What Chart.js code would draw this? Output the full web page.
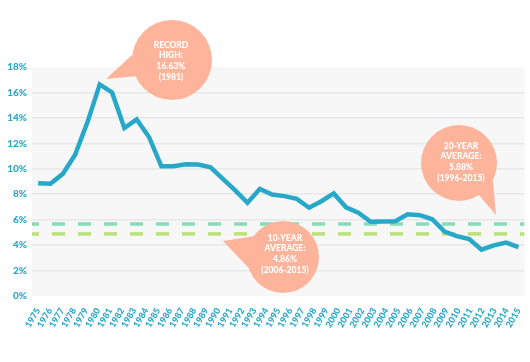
<!DOCTYPE html>
<html>
<head>
<meta charset="utf-8">
<script src="https://cdn.jsdelivr.net/npm/chart.js@4"></script>
<style>
  html, body { margin: 0; padding: 0; background: #fff; }
  #wrap { width: 530px; height: 362px; }
</style>
</head>
<body>
<div id="wrap"><canvas id="rateChart" width="530" height="362"></canvas></div>
<script>
// Tick labels along the bottom axis
const tickYears = ['1975', '1976', '1977', '1978', '1979', '1980', '1981', '1982', '1983', '1984',
    '1985', '1986', '1987', '1988', '1989', '1990', '1991', '1992', '1993', '1994', '1995',
    '1996', '1997', '1998', '1999', '2000', '2001', '2002', '2003', '2004', '2005', '2006',
    '2007', '2008', '2009', '2010', '2011', '2012', '2013', '2014', '2015'];

// Years of the plotted series (one fewer than the tick labels)
const seriesYears = ['1976', '1977', '1978', '1979', '1980', '1981', '1982', '1983', '1984',
    '1985', '1986', '1987', '1988', '1989', '1990', '1991', '1992', '1993', '1994', '1995',
    '1996', '1997', '1998', '1999', '2000', '2001', '2002', '2003', '2004', '2005', '2006',
    '2007', '2008', '2009', '2010', '2011', '2012', '2013', '2014', '2015'];

// Average 30-year mortgage rate (%)
const rates = [8.86, 8.82, 9.6, 11.1, 13.65, 16.63, 16.0, 13.2, 13.88, 12.5,
    10.2, 10.2, 10.36, 10.33, 10.12, 9.2, 8.3, 7.33, 8.42, 7.98,
    7.85, 7.63, 6.94, 7.45, 8.06, 6.97, 6.55, 5.84, 5.85, 5.88,
    6.42, 6.35, 6.03, 5.06, 4.71, 4.47, 3.64, 3.98, 4.2, 3.85];

// Dashed average lines, as drawn
const avg20Level = 5.66;
const avg10Level = 4.88;

// Speech bubble notes
const callouts = [
    { lines: ['RECORD', 'HIGH:', '16.63%', '(1981)'], cx: 172, cy: 60, r: 40, tip: [106, 79], base: [156, 188], tx: 171, ty: 45 },
    { lines: ['20-YEAR', 'AVERAGE:', '5.88%', '(1996-2015)'], cx: 459, cy: 163, r: 38, tip: [496, 215], base: [27, 58], tx: 461, ty: 146 },
    { lines: ['10-YEAR', 'AVERAGE:', '4.86%', '(2006-2015)'], cx: 283, cy: 257, r: 36, tip: [223, 241], base: [162, 215], tx: 285, ty: 238 }
];

const teal = '#2aa7c9';
const bubble = '#fdb49b';

// Grey plot background
const backdrop = {
    id: 'backdrop',
    beforeDraw(chart) {
        const { ctx, chartArea: a } = chart;
        ctx.save();
        ctx.fillStyle = '#f7f7f7';
        ctx.fillRect(a.left, a.top, a.right - a.left, a.bottom - a.top);
        ctx.restore();
    }
};

// Salmon callout bubbles drawn over everything
const bubbles = {
    id: 'bubbles',
    afterDraw(chart) {
        const ctx = chart.ctx;
        ctx.save();
        callouts.forEach(c => {
            const a1 = c.base[0] * Math.PI / 180;
            const a2 = c.base[1] * Math.PI / 180;
            ctx.fillStyle = bubble;
            ctx.beginPath();
            ctx.moveTo(c.tip[0], c.tip[1]);
            ctx.lineTo(c.cx + c.r * Math.cos(a1), c.cy + c.r * Math.sin(a1));
            ctx.lineTo(c.cx + c.r * Math.cos(a2), c.cy + c.r * Math.sin(a2));
            ctx.closePath();
            ctx.fill();
            ctx.beginPath();
            ctx.arc(c.cx, c.cy, c.r, 0, Math.PI * 2);
            ctx.fill();

            ctx.fillStyle = '#ffffff';
            ctx.font = '900 8.5px Lato';
            ctx.textAlign = 'center';
            ctx.textBaseline = 'middle';
            c.lines.forEach((line, i) => {
                ctx.fillText(line, c.tx, c.ty + i * 10.6);
            });
        });
        ctx.restore();
    }
};

const ctx = document.getElementById('rateChart').getContext('2d');

new Chart(ctx, {
    type: 'line',
    data: {
        datasets: [{
            label: 'Rate',
            data: rates,
            xAxisID: 'xSeries',
            borderColor: '#27a8c8',
            borderWidth: 4.5,
            pointRadius: 0,
            tension: 0,
            fill: false,
            order: 0
        }, {
            label: '20-year average',
            data: [{ x: 0, y: avg20Level }, { x: 1, y: avg20Level }],
            xAxisID: 'xFull',
            borderColor: '#88dcb6',
            borderWidth: 3.5,
            borderDash: [13, 13],
            borderDashOffset: 6,
            borderCapStyle: 'butt',
            pointRadius: 0,
            fill: false,
            order: 1
        }, {
            label: '10-year average',
            data: [{ x: 0, y: avg10Level }, { x: 1, y: avg10Level }],
            xAxisID: 'xFull',
            borderColor: '#bce17a',
            borderWidth: 3.5,
            borderDash: [13, 13],
            borderDashOffset: 6,
            borderCapStyle: 'butt',
            pointRadius: 0,
            fill: false,
            order: 2
        }]
    },
    options: {
        responsive: false,
        animation: false,
        devicePixelRatio: 1,
        layout: {
            padding: { top: 67, right: 3, left: 0, bottom: 0 }
        },
        plugins: {
            legend: { display: false },
            tooltip: { enabled: false }
        },
        scales: {
            x: {
                type: 'category',
                labels: tickYears,
                offset: true,
                grid: { display: false },
                border: { display: false },
                ticks: {
                    color: teal,
                    font: { family: 'Lato', weight: '900', size: 9 },
                    minRotation: 60,
                    maxRotation: 60,
                    autoSkip: false,
                    padding: 2
                },
                afterFit: function(scale) {
                    scale.height = 66;
                }
            },
            xSeries: {
                type: 'category',
                labels: seriesYears,
                offset: true,
                display: false
            },
            xFull: {
                type: 'linear',
                min: 0,
                max: 1,
                display: false
            },
            y: {
                min: 0,
                max: 18,
                border: { display: false },
                grid: {
                    drawTicks: false,
                    lineWidth: 1.5,
                    color: function(context) {
                        const v = context.tick.value;
                        return (v === 0 || v === 18) ? 'rgba(0,0,0,0)' : '#e8e8e8';
                    }
                },
                ticks: {
                    stepSize: 2,
                    color: teal,
                    padding: 5,
                    font: { family: 'Lato', weight: '900', size: 10 },
                    callback: function(value) {
                        return value + '%';
                    }
                },
                afterFit: function(scale) {
                    scale.width = 32;
                }
            }
        }
    },
    plugins: [backdrop, bubbles]
});
</script>
</body>
</html>
